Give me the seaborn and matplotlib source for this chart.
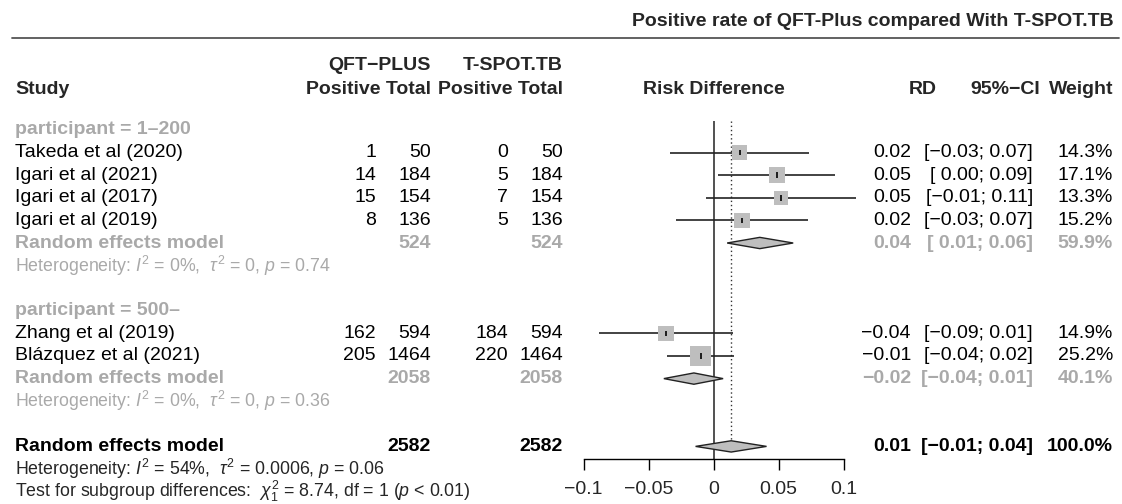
import numpy as np
import pandas as pd
import matplotlib
matplotlib.use("Agg")
import matplotlib.pyplot as plt
import seaborn as sns

# ---------------- data ----------------
studies = ["Takeda et al (2020)", "Igari et al (2021)", "Igari et al (2017)",
           "Igari et al (2019)", "Zhang et al (2019)", "Blázquez et al (2021)"]
groups = [1, 1, 1, 1, 2, 2]
group_labels = ["participant = 1–200", "participant = 500–"]
qft_pos = [1, 14, 15, 8, 162, 205]
qft_tot = [50, 184, 154, 136, 594, 1464]
ts_pos = [0, 5, 7, 5, 184, 220]
ts_tot = [50, 184, 154, 136, 594, 1464]
rd = [0.0202, 0.0487, 0.0518, 0.0221, -0.0364, -0.0100]
ci_lo = [-0.0336, 0.0036, -0.0054, -0.0285, -0.0882, -0.0356]
ci_hi = [0.0738, 0.0938, 0.1098, 0.0728, 0.0149, 0.0156]
weights = [14.3, 17.1, 13.3, 15.2, 14.9, 25.2]
rd_txt = ["0.02", "0.05", "0.05", "0.02", "−0.04", "−0.01"]
ci_txt = ["[−0.03; 0.07]", "[ 0.00; 0.09]", "[−0.01; 0.11]", "[−0.03; 0.07]",
          "[−0.09; 0.01]", "[−0.04; 0.02]"]
w_txt = ["14.3%", "17.1%", "13.3%", "15.2%", "14.9%", "25.2%"]

sub_est = [0.0356, -0.0151]
sub_lo = [0.0105, -0.0382]
sub_hi = [0.0613, 0.0074]
sub_tot = [524, 2058]
sub_rd_txt = ["0.04", "−0.02"]
sub_ci_txt = ["[ 0.01; 0.06]", "[−0.04; 0.01]"]
sub_w_txt = ["59.9%", "40.1%"]
sub_het = [r"Heterogeneity: $I^2$ = 0%,  $\tau^2$ = 0, $p$ = 0.74",
           r"Heterogeneity: $I^2$ = 0%,  $\tau^2$ = 0, $p$ = 0.36"]

all_est, all_lo, all_hi = 0.0136, -0.0138, 0.0408
all_tot = 2582
all_rd_txt, all_ci_txt, all_w_txt = "0.01", "[−0.01; 0.04]", "100.0%"
all_het = r"Heterogeneity: $I^2$ = 54%,  $\tau^2$ = 0.0006, $p$ = 0.06"
test_txt = r"Test for subgroup differences:  $\chi^2_1$ = 8.74, df = 1 ($p$ < 0.01)"

xticks = [-0.1, -0.05, 0, 0.05, 0.1]
xtick_labels = ["−0.1", "−0.05", "0", "0.05", "0.1"]
title = "Positive rate of QFT-Plus compared With T-SPOT.TB"

# ---------------- style ----------------
sns.set_theme(style="white")
plt.rcParams["font.family"] = ["Liberation Sans", "DejaVu Sans"]
plt.rcParams["mathtext.fontset"] = "custom"
plt.rcParams["mathtext.rm"] = "Liberation Sans"
plt.rcParams["mathtext.it"] = "Liberation Sans:italic"
plt.rcParams["mathtext.bf"] = "Liberation Sans:bold"

FS = 14
FS_HET = 12.8
GRAY_TXT = "#A9A9A9"
BOX = "#BEBEBE"

W, H = 1122, 504
fig = plt.figure(figsize=(W / 100, H / 100), dpi=100)

# text layer in pixel coordinates
tax = fig.add_axes([0, 0, 1, 1])
tax.set_xlim(0, W)
tax.set_ylim(H, 0)
tax.axis("off")

Y0, DY = 130.0, 22.6
def ypix(k):
    return Y0 + DY * k

# forest panel
AX_L, AX_R, AX_T, AX_B = 583.5, 843.5, 121.0, 459.0
ax = fig.add_axes([AX_L / W, (H - AX_B) / H, (AX_R - AX_L) / W, (AX_B - AX_T) / H])
ax.patch.set_alpha(0)
ax.set_xlim(-0.1, 0.1)
ax.set_ylim((AX_B - Y0) / DY, (AX_T - Y0) / DY)

# ---- row layout ----
study_rows = []
sub_rows = []
het_rows = []
head_rows = []
k = 0
for g in (1, 2):
    head_rows.append(k); k += 1
    for i, gg in enumerate(groups):
        if gg == g:
            study_rows.append(k); k += 1
    sub_rows.append(k); k += 1
    het_rows.append(k); k += 2
all_row = k
all_het_row = k + 1
test_row = k + 2

df = pd.DataFrame({"study": studies, "rd": rd, "lo": ci_lo, "hi": ci_hi,
                   "w": weights, "row": study_rows})

# confidence intervals
ax.hlines(df["row"], df["lo"], df["hi"], color="#222222", lw=1.2, clip_on=False, zorder=2)
# squares: area proportional to weight
kpt = (4.0 * 0.72) ** 2
sns.scatterplot(data=df, x="rd", y="row", size="w",
                sizes=(kpt * min(weights), kpt * max(weights)),
                size_norm=(min(weights), max(weights)),
                marker="s", color=BOX, edgecolor="none", linewidth=0,
                legend=False, ax=ax, zorder=3, clip_on=False)
# inner tick at point estimate
ax.vlines(df["rd"], df["row"] - 0.12, df["row"] + 0.12, color="black", lw=1.2, zorder=4)

# diamonds
def diamond(est, lo, hi, row, h=0.25):
    ax.fill([lo, est, hi, est], [row, row - h, row, row + h],
            facecolor=BOX, edgecolor="#222222", lw=1.0, zorder=3, clip_on=False)

for j in range(2):
    diamond(sub_est[j], sub_lo[j], sub_hi[j], sub_rows[j])
diamond(all_est, all_lo, all_hi, all_row)

# reference lines
ax.axvline(0, color="#333333", lw=1.2, zorder=1)
ax.vlines(all_est, ax.get_ylim()[1], all_row - 0.25, color="#333333",
          lw=1.0, linestyles=(0, (1, 2)), zorder=1)

# axis
for s in ("left", "right", "top"):
    ax.spines[s].set_visible(False)
ax.spines["bottom"].set_bounds(-0.1, 0.1)
ax.spines["bottom"].set_color("black")
ax.spines["bottom"].set_linewidth(1.0)
ax.set_yticks([])
ax.set_xticks(xticks)
ax.set_xticklabels(xtick_labels)
ax.tick_params(axis="x", direction="out", length=8, width=1.0, color="black",
               labelsize=FS, pad=8, bottom=True)
ax.set_xlabel("")
ax.set_ylabel("")

# ---------------- text ----------------
X_STUDY = 15
X_QP, X_QT, X_TP, X_TT = 376, 431, 508, 563
X_RD, X_CI, X_W = 911, 1033, 1113

# title and rule
tax.text(1114, 21, title, ha="right", va="center", fontsize=FS, fontweight="bold")
tax.plot([12, 1119], [37.5, 37.5], color="#555555", lw=1.3)

# headers
HY1, HY2 = 65, 89
tax.text(X_STUDY, HY2, "Study", ha="left", va="center", fontsize=FS, fontweight="bold")
tax.text(X_QT, HY1, "QFT−PLUS", ha="right", va="center", fontsize=FS, fontweight="bold")
tax.text(X_QT, HY2, "Positive Total", ha="right", va="center", fontsize=FS, fontweight="bold")
tax.text(X_TT, HY1, "T-SPOT.TB", ha="right", va="center", fontsize=FS, fontweight="bold")
tax.text(X_TT, HY2, "Positive Total", ha="right", va="center", fontsize=FS, fontweight="bold")
tax.text((AX_L + AX_R) / 2, HY2, "Risk Difference", ha="center", va="center",
         fontsize=FS, fontweight="bold")
tax.text(937, HY2, "RD", ha="right", va="center", fontsize=FS, fontweight="bold")
tax.text(1040, HY2, "95%−CI", ha="right", va="center", fontsize=FS, fontweight="bold")
tax.text(X_W, HY2, "Weight", ha="right", va="center", fontsize=FS, fontweight="bold")

def row_text(y, cols, color="black", weight="normal"):
    for x, s, ha in cols:
        tax.text(x, y, s, ha=ha, va="center", fontsize=FS, color=color, fontweight=weight)

for j in range(2):
    tax.text(X_STUDY, ypix(head_rows[j]), group_labels[j], ha="left", va="center",
             fontsize=FS, color=GRAY_TXT, fontweight="bold")

for i in range(len(studies)):
    y = ypix(study_rows[i])
    row_text(y, [(X_STUDY, studies[i], "left"),
                 (X_QP, str(qft_pos[i]), "right"), (X_QT, str(qft_tot[i]), "right"),
                 (X_TP, str(ts_pos[i]), "right"), (X_TT, str(ts_tot[i]), "right"),
                 (X_RD, rd_txt[i], "right"), (X_CI, ci_txt[i], "right"),
                 (X_W, w_txt[i], "right")])

for j in range(2):
    y = ypix(sub_rows[j])
    row_text(y, [(X_STUDY, "Random effects model", "left"),
                 (X_QT, str(sub_tot[j]), "right"), (X_TT, str(sub_tot[j]), "right"),
                 (X_RD, sub_rd_txt[j], "right"), (X_CI, sub_ci_txt[j], "right"),
                 (X_W, sub_w_txt[j], "right")], color=GRAY_TXT, weight="bold")
    tax.text(X_STUDY, ypix(het_rows[j]), sub_het[j], ha="left", va="center",
             fontsize=FS_HET, color=GRAY_TXT)

y = ypix(all_row)
row_text(y, [(X_STUDY, "Random effects model", "left"),
             (X_QT, str(all_tot), "right"), (X_TT, str(all_tot), "right"),
             (X_RD, all_rd_txt, "right"), (X_CI, all_ci_txt, "right"),
             (X_W, all_w_txt, "right")], weight="bold")
tax.text(X_STUDY, ypix(all_het_row), all_het, ha="left", va="center", fontsize=FS_HET)
tax.text(X_STUDY, ypix(test_row), test_txt, ha="left", va="center", fontsize=FS_HET)

fig.savefig("out.png", dpi=100)
